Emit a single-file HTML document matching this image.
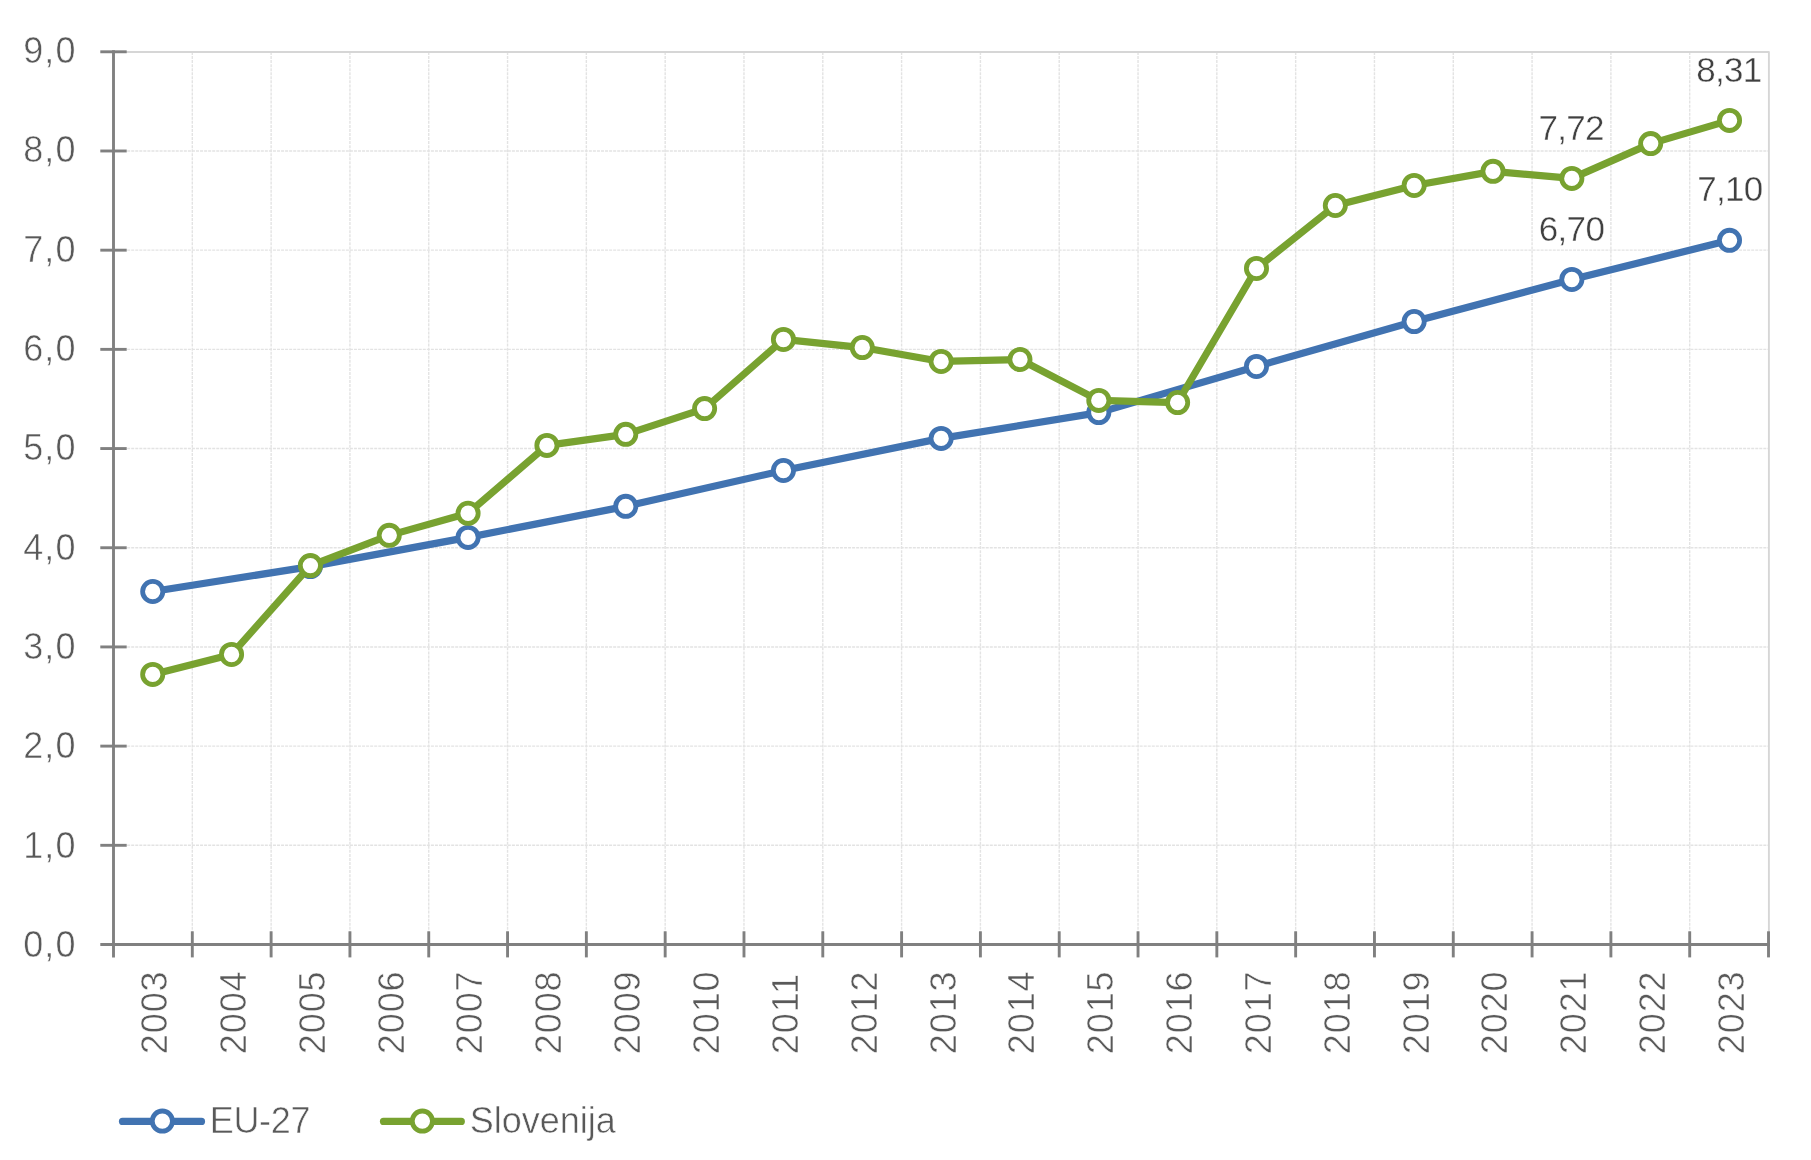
<!DOCTYPE html>
<html lang="sl"><head><meta charset="utf-8"><title>EU-27 / Slovenija</title>
<style>
html,body{margin:0;padding:0;background:#fff;}
body{width:1811px;height:1160px;overflow:hidden;font-family:"Liberation Sans",sans-serif;}
svg{display:block;will-change:transform}
text{font-family:"Liberation Sans",sans-serif;}
.ax{font-size:36px;fill:#595959;stroke:#fff;stroke-width:0.55px;}
.dl{font-size:35px;fill:#404040;stroke:#fff;stroke-width:0.4px;letter-spacing:-0.7px;}
.ya{letter-spacing:1.2px}.xa{letter-spacing:0.9px}
</style></head><body>
<svg width="1811" height="1160" viewBox="0 0 1811 1160">
<rect width="1811" height="1160" fill="#fff"/>

<g stroke="#E3E3E3" stroke-width="1.4" stroke-dasharray="3 1.05" fill="none">
<line x1="115" y1="845.31" x2="1768.5" y2="845.31"/>
<line x1="115" y1="746.12" x2="1768.5" y2="746.12"/>
<line x1="115" y1="646.93" x2="1768.5" y2="646.93"/>
<line x1="115" y1="547.74" x2="1768.5" y2="547.74"/>
<line x1="115" y1="448.55" x2="1768.5" y2="448.55"/>
<line x1="115" y1="349.36" x2="1768.5" y2="349.36"/>
<line x1="115" y1="250.17" x2="1768.5" y2="250.17"/>
<line x1="115" y1="150.98" x2="1768.5" y2="150.98"/>
<line x1="192.31" y1="52" x2="192.31" y2="943"/>
<line x1="271.12" y1="52" x2="271.12" y2="943"/>
<line x1="349.93" y1="52" x2="349.93" y2="943"/>
<line x1="428.74" y1="52" x2="428.74" y2="943"/>
<line x1="507.55" y1="52" x2="507.55" y2="943"/>
<line x1="586.36" y1="52" x2="586.36" y2="943"/>
<line x1="665.17" y1="52" x2="665.17" y2="943"/>
<line x1="743.98" y1="52" x2="743.98" y2="943"/>
<line x1="822.79" y1="52" x2="822.79" y2="943"/>
<line x1="901.60" y1="52" x2="901.60" y2="943"/>
<line x1="980.41" y1="52" x2="980.41" y2="943"/>
<line x1="1059.22" y1="52" x2="1059.22" y2="943"/>
<line x1="1138.03" y1="52" x2="1138.03" y2="943"/>
<line x1="1216.84" y1="52" x2="1216.84" y2="943"/>
<line x1="1295.65" y1="52" x2="1295.65" y2="943"/>
<line x1="1374.46" y1="52" x2="1374.46" y2="943"/>
<line x1="1453.27" y1="52" x2="1453.27" y2="943"/>
<line x1="1532.08" y1="52" x2="1532.08" y2="943"/>
<line x1="1610.89" y1="52" x2="1610.89" y2="943"/>
<line x1="1689.70" y1="52" x2="1689.70" y2="943"/>
</g>
<path d="M113.5 52H1768.9V944.5" fill="none" stroke="#D6D6D6" stroke-width="1.9" stroke-linejoin="round"/>
<g stroke="#808080" stroke-width="2.9" fill="none">
<line x1="113.5" y1="50.3" x2="113.5" y2="957.4"/>
<line x1="100.3" y1="944.5" x2="1769.95" y2="944.5"/>
<line x1="100.3" y1="845.31" x2="126.7" y2="845.31"/>
<line x1="100.3" y1="746.12" x2="126.7" y2="746.12"/>
<line x1="100.3" y1="646.93" x2="126.7" y2="646.93"/>
<line x1="100.3" y1="547.74" x2="126.7" y2="547.74"/>
<line x1="100.3" y1="448.55" x2="126.7" y2="448.55"/>
<line x1="100.3" y1="349.36" x2="126.7" y2="349.36"/>
<line x1="100.3" y1="250.17" x2="126.7" y2="250.17"/>
<line x1="100.3" y1="150.98" x2="126.7" y2="150.98"/>
<line x1="100.3" y1="51.79" x2="126.7" y2="51.79"/>
<line x1="192.31" y1="931.3" x2="192.31" y2="957.4"/>
<line x1="271.12" y1="931.3" x2="271.12" y2="957.4"/>
<line x1="349.93" y1="931.3" x2="349.93" y2="957.4"/>
<line x1="428.74" y1="931.3" x2="428.74" y2="957.4"/>
<line x1="507.55" y1="931.3" x2="507.55" y2="957.4"/>
<line x1="586.36" y1="931.3" x2="586.36" y2="957.4"/>
<line x1="665.17" y1="931.3" x2="665.17" y2="957.4"/>
<line x1="743.98" y1="931.3" x2="743.98" y2="957.4"/>
<line x1="822.79" y1="931.3" x2="822.79" y2="957.4"/>
<line x1="901.60" y1="931.3" x2="901.60" y2="957.4"/>
<line x1="980.41" y1="931.3" x2="980.41" y2="957.4"/>
<line x1="1059.22" y1="931.3" x2="1059.22" y2="957.4"/>
<line x1="1138.03" y1="931.3" x2="1138.03" y2="957.4"/>
<line x1="1216.84" y1="931.3" x2="1216.84" y2="957.4"/>
<line x1="1295.65" y1="931.3" x2="1295.65" y2="957.4"/>
<line x1="1374.46" y1="931.3" x2="1374.46" y2="957.4"/>
<line x1="1453.27" y1="931.3" x2="1453.27" y2="957.4"/>
<line x1="1532.08" y1="931.3" x2="1532.08" y2="957.4"/>
<line x1="1610.89" y1="931.3" x2="1610.89" y2="957.4"/>
<line x1="1689.70" y1="931.3" x2="1689.70" y2="957.4"/>
<line x1="1768.51" y1="931.3" x2="1768.51" y2="957.4"/>
</g>
<text class="ax ya" x="76.8" y="956.90" text-anchor="end">0,0</text>
<text class="ax ya" x="76.8" y="857.59" text-anchor="end">1,0</text>
<text class="ax ya" x="76.8" y="758.28" text-anchor="end">2,0</text>
<text class="ax ya" x="76.8" y="658.97" text-anchor="end">3,0</text>
<text class="ax ya" x="76.8" y="559.66" text-anchor="end">4,0</text>
<text class="ax ya" x="76.8" y="460.35" text-anchor="end">5,0</text>
<text class="ax ya" x="76.8" y="361.04" text-anchor="end">6,0</text>
<text class="ax ya" x="76.8" y="261.73" text-anchor="end">7,0</text>
<text class="ax ya" x="76.8" y="162.42" text-anchor="end">8,0</text>
<text class="ax ya" x="76.8" y="63.11" text-anchor="end">9,0</text>
<text class="ax xa" transform="translate(167.12 1054.2) rotate(-90)">2003</text>
<text class="ax xa" transform="translate(245.96 1054.2) rotate(-90)">2004</text>
<text class="ax xa" transform="translate(324.80 1054.2) rotate(-90)">2005</text>
<text class="ax xa" transform="translate(403.64 1054.2) rotate(-90)">2006</text>
<text class="ax xa" transform="translate(482.48 1054.2) rotate(-90)">2007</text>
<text class="ax xa" transform="translate(561.32 1054.2) rotate(-90)">2008</text>
<text class="ax xa" transform="translate(640.16 1054.2) rotate(-90)">2009</text>
<text class="ax xa" transform="translate(719.00 1054.2) rotate(-90)">2010</text>
<text class="ax xa" transform="translate(797.84 1054.2) rotate(-90)">2011</text>
<text class="ax xa" transform="translate(876.68 1054.2) rotate(-90)">2012</text>
<text class="ax xa" transform="translate(955.52 1054.2) rotate(-90)">2013</text>
<text class="ax xa" transform="translate(1034.36 1054.2) rotate(-90)">2014</text>
<text class="ax xa" transform="translate(1113.20 1054.2) rotate(-90)">2015</text>
<text class="ax xa" transform="translate(1192.04 1054.2) rotate(-90)">2016</text>
<text class="ax xa" transform="translate(1270.88 1054.2) rotate(-90)">2017</text>
<text class="ax xa" transform="translate(1349.72 1054.2) rotate(-90)">2018</text>
<text class="ax xa" transform="translate(1428.56 1054.2) rotate(-90)">2019</text>
<text class="ax xa" transform="translate(1507.40 1054.2) rotate(-90)">2020</text>
<text class="ax xa" transform="translate(1586.24 1054.2) rotate(-90)">2021</text>
<text class="ax xa" transform="translate(1665.08 1054.2) rotate(-90)">2022</text>
<text class="ax xa" transform="translate(1743.92 1054.2) rotate(-90)">2023</text>
<polyline points="152.72,591.50 310.40,566.60 468.08,537.40 625.76,506.35 783.44,470.50 941.12,438.40 1098.80,412.60 1256.48,366.45 1414.16,321.55 1571.84,279.45 1729.52,240.35" fill="none" stroke="#4173B1" stroke-width="7.2" stroke-linejoin="round" stroke-linecap="round"/>
<circle cx="152.72" cy="591.50" r="10.1" fill="#fff" stroke="#4173B1" stroke-width="4.8"/>
<circle cx="310.40" cy="566.60" r="10.1" fill="#fff" stroke="#4173B1" stroke-width="4.8"/>
<circle cx="468.08" cy="537.40" r="10.1" fill="#fff" stroke="#4173B1" stroke-width="4.8"/>
<circle cx="625.76" cy="506.35" r="10.1" fill="#fff" stroke="#4173B1" stroke-width="4.8"/>
<circle cx="783.44" cy="470.50" r="10.1" fill="#fff" stroke="#4173B1" stroke-width="4.8"/>
<circle cx="941.12" cy="438.40" r="10.1" fill="#fff" stroke="#4173B1" stroke-width="4.8"/>
<circle cx="1098.80" cy="412.60" r="10.1" fill="#fff" stroke="#4173B1" stroke-width="4.8"/>
<circle cx="1256.48" cy="366.45" r="10.1" fill="#fff" stroke="#4173B1" stroke-width="4.8"/>
<circle cx="1414.16" cy="321.55" r="10.1" fill="#fff" stroke="#4173B1" stroke-width="4.8"/>
<circle cx="1571.84" cy="279.45" r="10.1" fill="#fff" stroke="#4173B1" stroke-width="4.8"/>
<circle cx="1729.52" cy="240.35" r="10.1" fill="#fff" stroke="#4173B1" stroke-width="4.8"/>
<polyline points="152.72,674.40 231.56,654.45 310.40,565.60 389.24,535.35 468.08,513.30 546.92,445.40 625.76,434.35 704.60,408.60 783.44,339.45 862.28,347.55 941.12,361.45 1019.96,359.50 1098.80,400.40 1177.64,402.55 1256.48,268.45 1335.32,205.50 1414.16,185.45 1493.00,171.35 1571.84,178.40 1650.68,143.60 1729.52,120.40" fill="none" stroke="#78A230" stroke-width="7.2" stroke-linejoin="round" stroke-linecap="round"/>
<circle cx="152.72" cy="674.40" r="10.1" fill="#fff" stroke="#78A230" stroke-width="4.8"/>
<circle cx="231.56" cy="654.45" r="10.1" fill="#fff" stroke="#78A230" stroke-width="4.8"/>
<circle cx="310.40" cy="565.60" r="10.1" fill="#fff" stroke="#78A230" stroke-width="4.8"/>
<circle cx="389.24" cy="535.35" r="10.1" fill="#fff" stroke="#78A230" stroke-width="4.8"/>
<circle cx="468.08" cy="513.30" r="10.1" fill="#fff" stroke="#78A230" stroke-width="4.8"/>
<circle cx="546.92" cy="445.40" r="10.1" fill="#fff" stroke="#78A230" stroke-width="4.8"/>
<circle cx="625.76" cy="434.35" r="10.1" fill="#fff" stroke="#78A230" stroke-width="4.8"/>
<circle cx="704.60" cy="408.60" r="10.1" fill="#fff" stroke="#78A230" stroke-width="4.8"/>
<circle cx="783.44" cy="339.45" r="10.1" fill="#fff" stroke="#78A230" stroke-width="4.8"/>
<circle cx="862.28" cy="347.55" r="10.1" fill="#fff" stroke="#78A230" stroke-width="4.8"/>
<circle cx="941.12" cy="361.45" r="10.1" fill="#fff" stroke="#78A230" stroke-width="4.8"/>
<circle cx="1019.96" cy="359.50" r="10.1" fill="#fff" stroke="#78A230" stroke-width="4.8"/>
<circle cx="1098.80" cy="400.40" r="10.1" fill="#fff" stroke="#78A230" stroke-width="4.8"/>
<circle cx="1177.64" cy="402.55" r="10.1" fill="#fff" stroke="#78A230" stroke-width="4.8"/>
<circle cx="1256.48" cy="268.45" r="10.1" fill="#fff" stroke="#78A230" stroke-width="4.8"/>
<circle cx="1335.32" cy="205.50" r="10.1" fill="#fff" stroke="#78A230" stroke-width="4.8"/>
<circle cx="1414.16" cy="185.45" r="10.1" fill="#fff" stroke="#78A230" stroke-width="4.8"/>
<circle cx="1493.00" cy="171.35" r="10.1" fill="#fff" stroke="#78A230" stroke-width="4.8"/>
<circle cx="1571.84" cy="178.40" r="10.1" fill="#fff" stroke="#78A230" stroke-width="4.8"/>
<circle cx="1650.68" cy="143.60" r="10.1" fill="#fff" stroke="#78A230" stroke-width="4.8"/>
<circle cx="1729.52" cy="120.40" r="10.1" fill="#fff" stroke="#78A230" stroke-width="4.8"/>
<text class="dl" x="1728.9" y="82.1" text-anchor="middle">8,31</text>
<text class="dl" x="1571.2" y="139.6" text-anchor="middle">7,72</text>
<text class="dl" x="1729.9" y="200.6" text-anchor="middle">7,10</text>
<text class="dl" x="1571.5" y="240.6" text-anchor="middle">6,70</text>
<line x1="122.5" y1="1121.4" x2="201.5" y2="1121.4" stroke="#4173B1" stroke-width="7.2" stroke-linecap="round"/>
<circle cx="162.35" cy="1121.1" r="10.1" fill="#fff" stroke="#4173B1" stroke-width="4.8"/>
<text class="ax" x="209.8" y="1132.6" letter-spacing="-0.35">EU-27</text>
<line x1="383.5" y1="1121.4" x2="461.3" y2="1121.4" stroke="#78A230" stroke-width="7.2" stroke-linecap="round"/>
<circle cx="422.35" cy="1121.1" r="10.1" fill="#fff" stroke="#78A230" stroke-width="4.8"/>
<text class="ax" x="469.8" y="1132.6">Slovenija</text>
</svg></body></html>
